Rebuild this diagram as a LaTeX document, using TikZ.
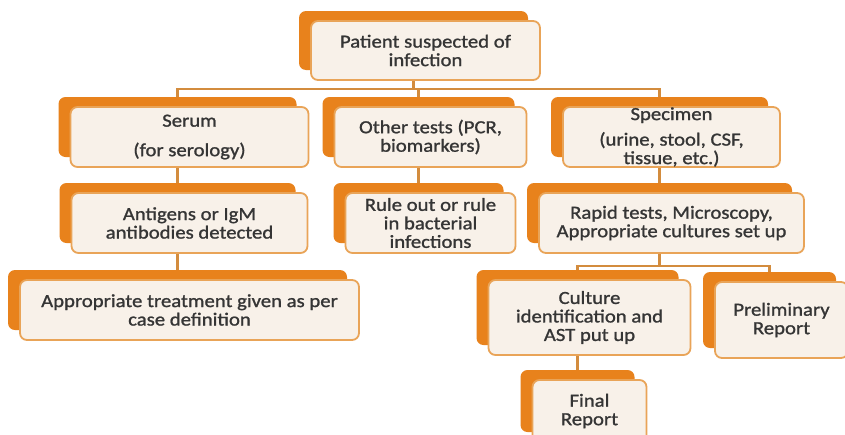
\documentclass[tikz,border=0pt]{standalone}
\usepackage{fontspec}
\setmainfont{Carlito}[FakeStretch=1.12, FakeBold=1.2]
\usetikzlibrary{shadows,backgrounds}

\definecolor{backorange}{HTML}{E8821C}
\definecolor{edgeorange}{HTML}{E9A458}
\definecolor{boxfill}{HTML}{F8F1E9}
\definecolor{linktan}{HTML}{D38C3E}
\definecolor{textgray}{HTML}{353535}

\tikzset{
  card/.style={draw=edgeorange, line width=1.8pt, fill=boxfill, rounded corners=7pt,
    text=textgray, align=center, inner xsep=4pt, inner ysep=0pt,
    font=\fontsize{18.5}{18.5}\selectfont,
    general shadow={fill=backorange, draw=none, shadow xshift=-12pt, shadow yshift=10pt}},
  link/.style={draw=linktan, line width=2.4pt}
}

\begin{document}
\begin{tikzpicture}[x=1pt, y=-1pt]
    \useasboundingbox (0,0) rectangle (845,434);
    \clip (0,0) rectangle (845,434);

    % top
    \node[card, minimum width=229pt, minimum height=59pt] (pat) at (425.5,50.5) {Patient suspected of\\infection};

    % second row
    \node[card, minimum width=238pt, minimum height=60pt] (ser) at (189.5,137) {Serum\\[11pt](for serology)};
    \node[card, minimum width=192pt, minimum height=60pt] (oth) at (430.5,137) {Other tests (PCR,\\biomarkers)};
    \node[card, minimum width=217pt, minimum height=60pt] (spe) at (671.5,137) {Specimen\\[7pt](urine, stool, CSF,\\tissue, etc.)};

    % third row
    \node[card, minimum width=236pt, minimum height=60pt] (ant) at (189.5,223) {Antigens or IgM\\antibodies detected};
    \node[card, minimum width=170pt, minimum height=60pt] (rul) at (430.5,223) {Rule out or rule\\in bacterial\\infections};
    \node[card, minimum width=265pt, minimum height=60pt] (rap) at (671.5,223) {Rapid tests, Microscopy,\\Appropriate cultures set up};

    % fourth row
    \node[card, minimum width=339pt, minimum height=60pt] (app) at (189.5,310) {Appropriate treatment given as per\\case definition};
    \node[card, minimum width=202pt, minimum height=75pt] (cul) at (589.5,317.5) {Culture\\identification and\\AST put up};
    \node[card, minimum width=133pt, minimum height=76pt] (pre) at (781.5,320) {Preliminary\\Report};

    % last
    \node[card, minimum width=114pt, minimum height=62pt] (fin) at (589.5,411) {Final\\Report};

    \begin{scope}[on background layer]
        \fill[white] (0,0) rectangle (845,434);
        \draw[link] ([xshift=-12pt]pat.south) -- ++(0,8) -| ([xshift=-12pt]ser.north);
        \draw[link] ([xshift=-12pt]pat.south) -- ++(0,8) -| ([xshift=-12pt]oth.north);
        \draw[link] ([xshift=-12pt]pat.south) -- ++(0,8) -| ([xshift=-12pt]spe.north);
        \draw[link] ([xshift=-12pt]ser.south) -- ([xshift=-12pt]ant.north);
        \draw[link] ([xshift=-12pt]oth.south) -- ([xshift=-12pt]rul.north);
        \draw[link] ([xshift=-12pt]spe.south) -- ([xshift=-12pt]rap.north);
        \draw[link] ([xshift=-12pt]ant.south) -- ([xshift=-12pt]app.north);
        \draw[link] ([xshift=-12pt]rap.south) -- ++(0,12) -| ([xshift=-12pt]cul.north);
        \draw[link] ([xshift=-12pt]rap.south) -- ++(0,12) -| ([xshift=-12pt]pre.north);
        \draw[link] ([xshift=-12pt]cul.south) -- ([xshift=-12pt]fin.north);
    \end{scope}
\end{tikzpicture}
\end{document}
